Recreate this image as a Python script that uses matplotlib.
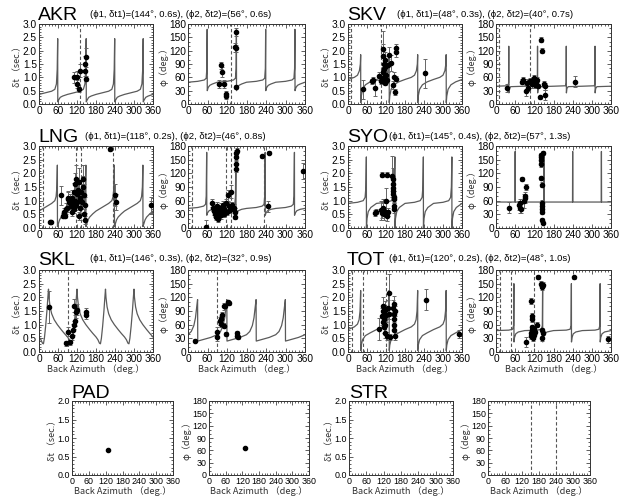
import numpy as np
import matplotlib
matplotlib.use("Agg")
import matplotlib.pyplot as plt
from matplotlib.ticker import MultipleLocator, FormatStrFormatter
from matplotlib import font_manager as fm

# ---------------- data ----------------
STATIONS = ["AKR", "SKV", "LNG", "SYO", "SKL", "TOT", "PAD", "STR"]
PARAMS = {
    "AKR": "(ϕ1, δt1)=(144°, 0.6s), (ϕ2, δt2)=(56°, 0.6s)",
    "SKV": "(ϕ1, δt1)=(48°, 0.3s), (ϕ2, δt2)=(40°, 0.7s)",
    "LNG": "(ϕ1, δt1)=(118°, 0.2s), (ϕ2, δt2)=(46°, 0.8s)",
    "SYO": "(ϕ1, δt1)=(145°, 0.4s), (ϕ2, δt2)=(57°, 1.3s)",
    "SKL": "(ϕ1, δt1)=(146°, 0.3s), (ϕ2, δt2)=(32°, 0.9s)",
    "TOT": "(ϕ1, δt1)=(120°, 0.2s), (ϕ2, δt2)=(48°, 1.0s)",
}

# AKR
AKR_DT_X = [110, 121, 120, 125, 130, 145, 146, 147, 148]
AKR_DT_Y = [1.0, 1.0, 0.75, 0.55, 1.25, 1.25, 1.5, 1.75, 0.95]
AKR_DT_E = [0.2, 0.25, 0.15, 0.1, 0.25, 0.2, 0.3, 0.35, 0.1]
AKR_PH_X = [100, 105, 95, 112, 117, 118, 148, 146, 149, 147]
AKR_PH_Y = [87, 72, 45, 45, 22, 17, 162, 128, 125, 38]
AKR_PH_E = [8, 12, 8, 10, 8, 6, 8, 10, 8, 4]
AKR_DT_KX = [0, 20, 40, 50, 55, 57.5, 59, 59.3, 62, 67, 75, 90]
AKR_DT_KY = [0.36, 0.42, 0.48, 0.55, 0.75, 1.3, 2.45, 0.08, 0.15, 0.25, 0.30, 0.36]
AKR_PH_KX = [0, 30, 50, 56, 58, 59, 59.3, 62, 67, 75, 90]
AKR_PH_KY = [49, 51, 54, 58, 80, 168, 30, 37, 42, 45, 49]
AKR_DT_DASH = [130]
AKR_PH_DASH = [132]

# SKV
SKV_DT_X = [47, 75, 80, 85, 98, 104, 108, 110, 110, 112, 113, 114, 115, 116, 117, 118, 120, 122,
            125, 130, 135, 142, 145, 147, 150, 150, 152, 243]
SKV_DT_Y = [0.55, 0.85, 0.9, 0.6, 1.05, 0.85, 0.9, 1.2, 1.8, 2.05, 1.5, 1.3, 1.0, 0.8, 1.65, 1.4, 1.1, 0.9,
            1.45, 1.85, 1.55, 0.7, 1.0, 0.45, 2.1, 1.95, 0.95, 1.15]
SKV_DT_E = [0.35, 0.1, 0.1, 0.3, 0.15, 0.1, 0.1, 0.2, 0.45, 0.7, 0.3, 0.2, 0.15, 0.1, 0.3, 0.25, 0.15, 0.1,
            0.25, 0.3, 0.3, 0.15, 0.2, 0.1, 0.15, 0.2, 0.1, 0.55]
SKV_PH_X = [35, 80, 84, 95, 98, 100, 105, 112, 115, 117, 118, 120, 122, 124, 126, 128, 130, 138, 140,
            145, 150, 152, 153, 248]
SKV_PH_Y = [36, 50, 55, 30, 48, 35, 52, 45, 55, 48, 58, 50, 42, 53, 47, 55, 40, 15, 145,
            120, 45, 40, 20, 50]
SKV_PH_E = [8, 6, 5, 12, 8, 6, 6, 8, 6, 5, 8, 6, 6, 5, 6, 6, 5, 4, 5, 5, 6, 8, 12, 12]
SKV_DT_KX = [0, 20, 30, 36, 39, 40, 40.3, 42, 46, 55, 70, 90]
SKV_DT_KY = [0.92, 1.0, 1.08, 1.25, 1.5, 1.85, 0.05, 0.3, 0.55, 0.72, 0.83, 0.92]
SKV_PH_KX = [0, 38, 39.5, 40, 40.4, 42, 46, 90]
SKV_PH_KY = [40, 41, 48, 130, 25, 35, 39, 40]
SKV_DT_DASH = [10, 105]
SKV_PH_DASH = [10, 105]

# LNG
LNG_DT_X = [35, 38, 70, 75, 78, 80, 82, 85, 88, 90, 93, 96, 98, 100, 103, 105, 108, 110, 112, 113, 115,
            116, 118, 120, 121, 123, 125, 127, 128, 130, 132, 135, 138, 140, 142, 143, 145, 146, 225,
            241, 242, 355]
LNG_DT_Y = [0.22, 0.22, 1.2, 0.45, 0.5, 0.6, 0.45, 0.7, 0.75, 1.05, 1.1, 0.95, 1.05, 0.8, 0.6, 1.1, 0.9,
            1.3, 0.7, 1.6, 1.0, 1.8, 0.85, 1.25, 0.95, 1.4, 0.45, 1.7, 1.1, 0.75, 1.3, 0.95, 1.5, 1.8,
            0.5, 1.2, 0.85, 0.3, 2.9, 1.2, 0.95, 0.85]
LNG_DT_E = [0.03, 0.03, 0.35, 0.1, 0.1, 0.15, 0.1, 0.2, 0.15, 0.3, 0.2, 0.15, 0.2, 0.2, 0.15, 0.3, 0.2,
            0.35, 0.15, 0.4, 0.2, 0.5, 0.2, 0.3, 0.2, 0.35, 0.15, 0.5, 0.3, 0.2, 0.3, 0.2, 0.4, 0.5,
            0.2, 0.4, 0.3, 0.15, 0.1, 0.4, 0.3, 0.3]
LNG_PH_X = [55, 75, 77, 80, 82, 84, 86, 88, 90, 92, 95, 98, 100, 102, 105, 108, 110, 112, 115, 118, 120,
            122, 125, 128, 132, 135, 140, 145, 146, 147, 148, 149, 150, 148, 228, 248, 246, 355]
LNG_PH_Y = [2, 55, 45, 38, 30, 42, 25, 35, 48, 20, 32, 40, 28, 45, 35, 50, 30, 42, 38, 55, 35,
            72, 48, 40, 80, 50, 45, 35, 25, 140, 155, 165, 170, 130, 157, 165, 48, 125]
LNG_PH_E = [15, 8, 8, 10, 6, 8, 8, 10, 8, 6, 8, 10, 8, 10, 8, 10, 6, 8, 10, 8, 6,
            12, 8, 6, 15, 8, 8, 10, 6, 8, 6, 6, 5, 8, 3, 3, 12, 18]
LNG_DT_KX = [0, 20, 40, 50, 54, 56.5, 58, 58.3, 61, 65, 70, 80, 90]
LNG_DT_KY = [0.62, 0.76, 0.9, 1.0, 1.15, 1.5, 2.3, 0.05, 0.15, 0.3, 0.4, 0.52, 0.62]
LNG_PH_KX = [0, 30, 48, 54, 56, 57.5, 57.8, 60, 65, 75, 90]
LNG_PH_KY = [43, 45, 48, 52, 70, 166, 28, 33, 38, 41, 43]
LNG_DT_DASH = [12, 116, 132, 235]
LNG_PH_DASH = [12, 116, 132, 235]

# SYO
SYO_DT_X = [85, 87, 103, 106, 108, 110, 112, 115, 118, 120, 122, 124, 126, 140, 141, 142, 142, 143,
            143, 144, 144, 145, 146]
SYO_DT_Y = [0.55, 0.6, 0.65, 1.95, 0.55, 0.75, 0.7, 0.5, 0.6, 1.0, 0.45, 1.95, 0.6, 1.9, 1.8, 1.6,
            1.45, 1.35, 1.25, 1.15, 1.05, 0.8, 0.7]
SYO_DT_E = [0.1, 0.1, 0.35, 0.1, 0.2, 0.3, 0.2, 0.2, 0.15, 0.45, 0.2, 0.1, 0.15, 0.75, 0.4, 0.3,
            0.3, 0.25, 0.2, 0.2, 0.15, 0.1, 0.15]
SYO_PH_X = [40, 72, 74, 76, 78, 80, 88, 90, 92, 95, 140, 141, 141, 142, 142, 143, 143, 144, 144,
            145, 145, 146, 146]
SYO_PH_Y = [45, 50, 55, 45, 42, 108, 60, 65, 70, 90, 160, 155, 150, 140, 110, 95, 55, 48, 42,
            35, 18, 12, 165]
SYO_PH_E = [12, 10, 8, 12, 10, 5, 15, 10, 8, 6, 5, 5, 6, 5, 5, 5, 6, 5, 5, 5, 4, 4, 5]
SYO_DT_KX = [0, 30, 48, 54, 56.5, 58, 58.2, 60, 64, 72, 90]
SYO_DT_KY = [0.9, 0.94, 1.0, 1.12, 1.5, 2.6, 0.0, 0.35, 0.6, 0.75, 0.9]
SYO_PH_KX = [0, 59.5, 60, 60.5, 90]
SYO_PH_KY = [57, 57, 168, 57, 57]
SYO_DT_DASH = []
SYO_PH_DASH = []

# SKL
SKL_DT_X = [30, 85, 92, 98, 103, 108, 110, 113, 110, 116, 120, 147, 148]
SKL_DT_Y = [1.65, 0.32, 0.75, 0.35, 0.58, 0.82, 1.0, 1.15, 1.7, 1.45, 1.55, 1.45, 1.35]
SKL_DT_E = [0.6, 0.1, 0.15, 0.1, 0.15, 0.2, 0.15, 0.2, 0.25, 0.2, 0.2, 0.15, 0.15]
SKL_PH_X = [22, 88, 88, 98, 100, 102, 105, 110, 115, 122, 126, 112, 118, 150, 152, 155]
SKL_PH_Y = [25, 45, 33, 68, 62, 72, 82, 100, 102, 109, 108, 58, 40, 42, 35, 33]
SKL_PH_E = [3, 10, 8, 8, 8, 6, 6, 8, 5, 5, 4, 6, 5, 4, 4, 4]
SKL_DT_KX = [0, 6, 11, 14, 17, 21, 25, 28, 30, 31.5, 35, 40, 48, 58, 70, 80, 90]
SKL_DT_KY = [0.55, 0.45, 0.32, 0.3, 0.5, 0.95, 1.5, 2.0, 2.3, 2.0, 1.65, 1.4, 1.18, 1.0, 0.82, 0.68, 0.55]
SKL_PH_KX = [0, 10, 18, 23, 27, 29.5, 30, 35, 50, 70, 90]
SKL_PH_KY = [38, 45, 58, 75, 100, 115, 24, 25, 28, 32, 38]
SKL_DT_DASH = [90]
SKL_PH_DASH = [90]

# TOT
TOT_DT_X = [98, 108, 110, 111, 112, 113, 114, 115, 116, 117, 118, 120, 122, 125, 128, 131, 133, 143,
            144, 145, 145, 146, 147, 148, 146, 245, 352]
TOT_DT_Y = [0.85, 1.3, 1.5, 1.1, 1.7, 0.9, 1.4, 1.2, 1.0, 0.7, 1.55, 1.35, 0.6, 1.6, 1.4, 2.15, 0.55,
            1.6, 1.4, 1.2, 1.0, 0.8, 0.6, 1.5, 1.75, 1.92, 0.65]
TOT_DT_E = [0.4, 0.3, 0.2, 0.2, 0.3, 0.2, 0.25, 0.2, 0.25, 0.2, 0.3, 0.25, 0.15, 0.3, 0.2, 0.7, 0.1,
            0.3, 0.3, 0.3, 0.2, 0.2, 0.15, 0.2, 0.3, 0.4, 0.15]
TOT_PH_X = [95, 110, 113, 112, 108, 110, 112, 114, 115, 117, 118, 120, 122, 128, 130, 142, 144, 146,
            143, 146, 145, 243, 352]
TOT_PH_Y = [22, 112, 78, 72, 35, 42, 48, 55, 30, 45, 38, 50, 44, 60, 165, 150, 142, 148,
            48, 42, 30, 164, 28]
TOT_PH_E = [10, 6, 8, 6, 6, 5, 6, 5, 6, 5, 5, 4, 5, 5, 4, 5, 6, 5, 5, 5, 5, 3, 8]
TOT_DT_KX = [0, 20, 30, 35, 38, 40, 40.3, 42, 46, 55, 70, 90]
TOT_DT_KY = [0.82, 0.92, 1.02, 1.18, 1.5, 2.25, 0.05, 0.25, 0.45, 0.6, 0.7, 0.82]
TOT_PH_KX = [0, 40, 52, 55, 56, 56.3, 58, 62, 70, 90]
TOT_PH_KY = [47, 48, 50, 58, 150, 22, 32, 40, 44, 47]
TOT_DT_DASH = [13, 48, 120]
TOT_PH_DASH = [13, 48, 120]

# PAD / STR
PAD_DT_X, PAD_DT_Y, PAD_DT_E = [130], [0.68], [0]
PAD_PH_X, PAD_PH_Y, PAD_PH_E = [130], [65], [0]
STR_DT_X, STR_DT_Y, STR_DT_E = [], [], []
STR_PH_X, STR_PH_Y, STR_PH_E = [], [], []
STR_PH_DASH = [150, 240]

XTICKS = [0, 60, 120, 180, 240, 300, 360]

# ---------------- layout ----------------
W, H = 621, 499
fig = plt.figure(figsize=(W / 100, H / 100), dpi=100)

names = {f.name for f in fm.fontManager.ttflist}
NARROW = 'Liberation Sans Narrow' if 'Liberation Sans Narrow' in names else 'Liberation Sans'
JP = ['Noto Sans CJK JP', 'DejaVu Sans']
SANS = ['Liberation Sans', 'DejaVu Sans']


def rect(x0, x1, y0, y1):
    return [x0 / W, 1 - y1 / H, (x1 - x0) / W, (y1 - y0) / H]


def tile(kx, ky):
    xs, ys = [], []
    for k in range(-1, 5):
        xs += [v + 90 * k for v in kx]
        ys += list(ky)
    return xs, ys


def panel(box, kind, xs, ys, es, kx=None, ky=None, dashes=(), small=False, xlabel=False):
    ax = fig.add_axes(rect(*box))
    ax.set_xlim(0, 360)
    fs = 6.4 if small else 7.3
    if kind == 'dt':
        ax.set_ylim(0, 2.0 if small else 3.0)
        ax.yaxis.set_major_locator(MultipleLocator(0.5))
        ax.yaxis.set_minor_locator(MultipleLocator(0.1))
        ax.yaxis.set_major_formatter(FormatStrFormatter('%.1f'))
        ylab = 'δt （sec.）'
    else:
        ax.set_ylim(0, 180)
        ax.yaxis.set_major_locator(MultipleLocator(30))
        ax.yaxis.set_minor_locator(MultipleLocator(10))
        ylab = 'φ（deg.）'
    ax.set_xticks(XTICKS)
    ax.xaxis.set_minor_locator(MultipleLocator(10))
    ax.tick_params(which='both', direction='in', top=True, right=True, color='#444444', width=0.6)
    ax.tick_params(which='major', length=3, pad=1.5, labelsize=fs)
    ax.tick_params(which='minor', length=1.5)
    for lab in ax.get_xticklabels() + ax.get_yticklabels():
        lab.set_fontfamily(NARROW)
    for s in ax.spines.values():
        s.set_linewidth(0.7)
        s.set_color('#333333')
    if kx is not None:
        cx, cy = tile(kx, ky)
        ax.plot(cx, cy, color='#5a5a5a', lw=0.9, zorder=2)
    for d in dashes:
        ax.axvline(d, color='#555555', lw=0.8, ls=(0, (3, 2)), zorder=2)
    if len(xs):
        ax.errorbar(xs, ys, yerr=es, fmt='o', color='black', ms=3.0, ecolor='#666666',
                    elinewidth=0.7, capsize=1.5, capthick=0.7, zorder=3)
    ax.set_ylabel(ylab, family=JP, fontsize=6.5, labelpad=0.5, color='#333333')
    if xlabel:
        ax.set_xlabel('Back Azimuth （deg.）', family=JP, fontsize=6.6, labelpad=0.3, color='#333333')
    return ax


def title(x, y, name, px=None, py=None, params=None):
    fig.text(x / W, 1 - y / H, name, fontsize=14, family=SANS, va='baseline', ha='left')
    if params is not None:
        fig.text(px / W, 1 - py / H, params, fontsize=6.8, family=SANS, va='baseline', ha='left')


ROWS = [(24, 104), (146, 228), (270, 352)]
LDT, LPH = (39, 153), (188, 305)
RDT, RPH = (348, 462), (496, 611)

grid = [("AKR", "SKV"), ("LNG", "SYO"), ("SKL", "TOT")]
D = globals()
title_y = [20, 142, 265]
param_y = [17, 139, 261]
param_x = {"AKR": 90, "SKV": 397, "LNG": 85, "SYO": 389, "SKL": 90, "TOT": 389}
for r, (left, right) in enumerate(grid):
    y0, y1 = ROWS[r]
    last = (r == 2)
    for st, cdt, cph in ((left, LDT, LPH), (right, RDT, RPH)):
        panel((cdt[0], cdt[1], y0, y1), 'dt', D[st + '_DT_X'], D[st + '_DT_Y'], D[st + '_DT_E'],
              D[st + '_DT_KX'], D[st + '_DT_KY'], D[st + '_DT_DASH'], xlabel=last)
        panel((cph[0], cph[1], y0, y1), 'ph', D[st + '_PH_X'], D[st + '_PH_Y'], D[st + '_PH_E'],
              D[st + '_PH_KX'], D[st + '_PH_KY'], D[st + '_PH_DASH'], xlabel=last)
        title(cdt[0] - 1, title_y[r], st, param_x[st], param_y[r], PARAMS[st])

# bottom row
panel((72, 173, 401, 475), 'dt', PAD_DT_X, PAD_DT_Y, PAD_DT_E, small=True, xlabel=True)
panel((209, 309, 401, 475), 'ph', PAD_PH_X, PAD_PH_Y, PAD_PH_E, small=True, xlabel=True)
panel((349, 453, 401, 475), 'dt', STR_DT_X, STR_DT_Y, STR_DT_E, small=True, xlabel=True)
panel((488, 590, 401, 475), 'ph', STR_PH_X, STR_PH_Y, STR_PH_E, dashes=STR_PH_DASH, small=True, xlabel=True)
title(71, 398, "PAD")
title(349, 398, "STR")

fig.savefig("out.png", dpi=100)
